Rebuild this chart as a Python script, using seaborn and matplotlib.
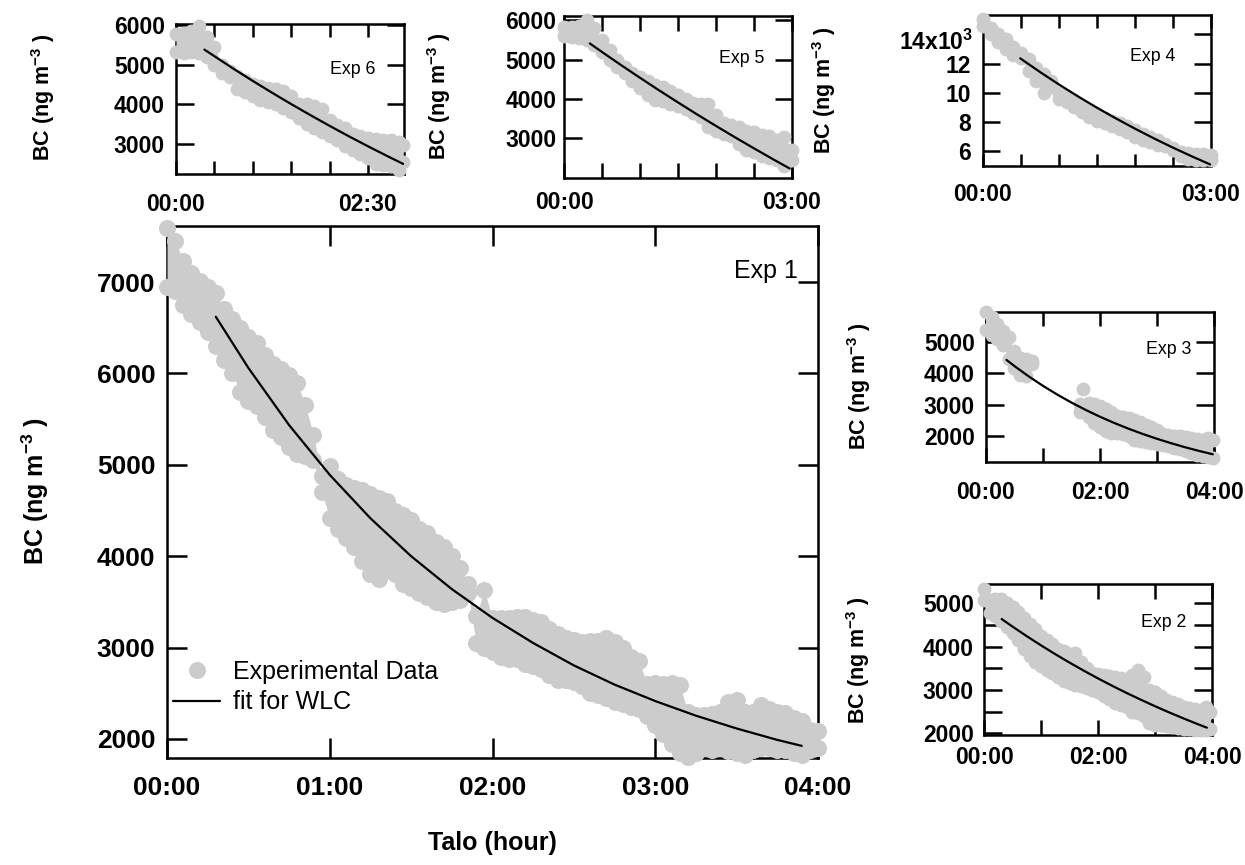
import numpy as np
import pandas as pd
import matplotlib
matplotlib.use("Agg")
import matplotlib.pyplot as plt
import seaborn as sns
from matplotlib.lines import Line2D

# ---------------- data ----------------
# Exp 1 (main panel): time in hours, upper and lower edge of the data cloud
exp1_t = [0.00, 0.05, 0.10, 0.15, 0.20, 0.25, 0.30, 0.35, 0.40, 0.45,
          0.50, 0.55, 0.60, 0.65, 0.70, 0.75, 0.80, 0.85, 0.90, 0.95,
          1.00, 1.05, 1.10, 1.15, 1.20, 1.25, 1.30, 1.35, 1.40, 1.45,
          1.50, 1.55, 1.60, 1.65, 1.70, 1.75, 1.80, 1.85, 1.90, 1.95,
          2.00, 2.05, 2.10, 2.15, 2.20, 2.25, 2.30, 2.35, 2.40, 2.45,
          2.50, 2.55, 2.60, 2.65, 2.70, 2.75, 2.80, 2.85, 2.90, 2.95,
          3.00, 3.05, 3.10, 3.15, 3.20, 3.25, 3.30, 3.35, 3.40, 3.45,
          3.50, 3.55, 3.60, 3.65, 3.70, 3.75, 3.80, 3.85, 3.90, 3.95, 4.00]
exp1_hi = [7590, 7450, 7230, 7100, 7010, 6950, 6880, 6700, 6600, 6500,
           6400, 6330, 6200, 6100, 6050, 5980, 5900, 5650, 5330, 4880,
           4990, 4850, 4780, 4750, 4720, 4680, 4640, 4600, 4500, 4450,
           4400, 4300, 4250, 4150, 4100, 4000, 3870, 3700, 3350, 3630,
           3320, 3320, 3320, 3330, 3330, 3300, 3280, 3200, 3150, 3100,
           3080, 3060, 3070, 3070, 3100, 3060, 3000, 2900, 2850, 2600,
           2610, 2600, 2610, 2590, 2300, 2260, 2260, 2270, 2300, 2400,
           2430, 2300, 2300, 2370, 2330, 2300, 2280, 2230, 2200, 2100, 2090]
exp1_lo = [6950, 6900, 6750, 6650, 6560, 6450, 6300, 6150, 6000, 5800,
           5700, 5640, 5520, 5380, 5300, 5200, 5120, 5100, 5050, 4700,
           4420, 4300, 4200, 4100, 3950, 3800, 3750, 3850, 3800, 3700,
           3650, 3600, 3550, 3500, 3480, 3500, 3520, 3600, 3050, 3000,
           2950, 2900, 2880, 2880, 2820, 2800, 2770, 2700, 2650, 2650,
           2620, 2580, 2500, 2480, 2450, 2400, 2380, 2350, 2330, 2250,
           2150, 2050, 1950, 1850, 1800, 1850, 1900, 1880, 1900, 1870,
           1850, 1820, 1880, 1900, 1900, 1880, 1880, 1850, 1820, 1880, 1900]
exp1_fit_t = [0.30, 0.50, 0.75, 1.00, 1.25, 1.50, 1.75, 2.00, 2.25, 2.50,
              2.75, 3.00, 3.25, 3.50, 3.75, 3.90]
exp1_fit = [6620, 6060, 5435, 4890, 4415, 4000, 3640, 3325, 3050, 2805,
            2595, 2415, 2255, 2115, 1990, 1925]

# Exp 6
exp6_t = [0.0, 0.1, 0.2, 0.3, 0.4, 0.5, 0.6, 0.7, 0.8, 0.9, 1.0, 1.1, 1.2, 1.3,
          1.4, 1.5, 1.6, 1.7, 1.8, 1.9, 2.0, 2.1, 2.2, 2.3, 2.4, 2.5, 2.6, 2.7,
          2.8, 2.9, 2.96]
exp6_hi = [5780, 5800, 5850, 5980, 5700, 5450, 5000, 4850, 4720, 4620, 4520,
           4460, 4420, 4380, 4330, 4200, 4020, 4000, 3950, 3880, 3600, 3480,
           3400, 3250, 3200, 3150, 3120, 3100, 3100, 3050, 2980]
exp6_lo = [5320, 5300, 5330, 5300, 5200, 5000, 4800, 4700, 4400, 4300, 4200,
           4120, 4050, 4000, 3920, 3800, 3650, 3500, 3400, 3300, 3200, 3100,
           2950, 2850, 2750, 2650, 2500, 2480, 2450, 2350, 2550]
exp6_fit_t = [0.37, 0.75, 1.0, 1.25, 1.5, 1.75, 2.0, 2.25, 2.5, 2.75, 2.96]
exp6_fit = [5380, 4896, 4591, 4295, 4008, 3730, 3460, 3198, 2945, 2700, 2500]

# Exp 5
exp5_t = [0.0, 0.1, 0.2, 0.3, 0.4, 0.5, 0.6, 0.7, 0.8, 0.9, 1.0, 1.1, 1.2, 1.3,
          1.4, 1.5, 1.6, 1.7, 1.8, 1.9, 2.0, 2.1, 2.2, 2.3, 2.4, 2.5, 2.6, 2.7,
          2.8, 2.9, 3.0]
exp5_hi = [5830, 5830, 5850, 6000, 5800, 5500, 5240, 5000, 4800, 4650, 4560,
           4450, 4350, 4300, 4200, 4100, 4000, 3900, 3870, 3870, 3600, 3380,
           3350, 3300, 3200, 3150, 3080, 3050, 2960, 3030, 2700]
exp5_lo = [5600, 5580, 5550, 5500, 5380, 5200, 4990, 4800, 4660, 4450, 4280,
           4100, 3980, 3950, 3880, 3820, 3750, 3650, 3550, 3300, 3200, 3100,
           3050, 2850, 2700, 2650, 2550, 2500, 2450, 2300, 2450]
exp5_fit_t = [0.34, 0.5, 0.75, 1.0, 1.25, 1.5, 1.75, 2.0, 2.25, 2.5, 2.75, 2.97]
exp5_fit = [5410, 5193, 4861, 4538, 4221, 3913, 3610, 3316, 3028, 2747, 2472, 2236]

# Exp 4
exp4_t = [0.0, 0.1, 0.2, 0.3, 0.4, 0.5, 0.6, 0.7, 0.8, 0.9, 1.0, 1.1, 1.2, 1.3,
          1.4, 1.5, 1.6, 1.7, 1.8, 1.9, 2.0, 2.1, 2.2, 2.3, 2.4, 2.5, 2.6, 2.7,
          2.8, 2.9, 3.0]
exp4_hi = [15070, 14450, 14000, 13700, 13150, 12750, 12300, 11700, 11250, 10800,
           10000, 9750, 9500, 9050, 8800, 8550, 8300, 8100, 7900, 7700, 7450,
           7200, 7000, 6800, 6480, 6250, 5950, 5850, 5800, 5780, 5730]
exp4_lo = [14570, 14050, 13500, 13000, 12600, 12400, 11500, 10800, 9980, 10400,
           9600, 9350, 9000, 8650, 8350, 8100, 7900, 7700, 7500, 7300, 7000,
           6780, 6600, 6450, 6340, 6100, 5650, 5500, 5400, 5390, 5390]
exp4_fit_t = [0.49, 0.75, 1.0, 1.25, 1.5, 1.75, 2.0, 2.25, 2.5, 2.75, 2.99]
exp4_fit = [12356, 11420, 10565, 9750, 8977, 8241, 7543, 6877, 6245, 5645, 5094]

# Exp 3 (no data between ~00:50 and ~01:40)
nan = np.nan
exp3_t = [0.0, 0.1, 0.2, 0.3, 0.4, 0.5, 0.6, 0.7, 0.8, 1.2,
          1.65, 1.8, 1.9, 2.0, 2.1, 2.2, 2.3, 2.4, 2.5, 2.6, 2.7, 2.8, 2.9,
          3.0, 3.1, 3.2, 3.3, 3.4, 3.5, 3.6, 3.7, 3.8, 3.9, 3.98]
exp3_hi = [5940, 5800, 5550, 5350, 5150, 4700, 4480, 4460, 4400, nan,
           3030, 3050, 3030, 2950, 2850, 2750, 2650, 2620, 2560, 2500, 2450,
           2350, 2290, 2200, 2080, 2030, 2000, 1990, 1970, 1950, 1900, 1870,
           1950, 1870]
exp3_lo = [5370, 5200, 5100, 4900, 4450, 4150, 3950, 3900, 4300, nan,
           2750, 2600, 2410, 2300, 2150, 2100, 2100, 2050, 2000, 1880, 1850,
           1820, 1780, 1750, 1720, 1680, 1620, 1580, 1520, 1450, 1400, 1360,
           1320, 1300]
exp3_out_t = [1.70]
exp3_out = [3490]
exp3_fit_t = [0.36, 0.5, 0.75, 1.0, 1.25, 1.5, 1.75, 2.0, 2.25, 2.5, 2.75, 3.0,
              3.25, 3.5, 3.75, 3.98]
exp3_fit = [4420, 4224, 3896, 3595, 3318, 3063, 2829, 2613, 2415, 2233, 2065,
            1911, 1770, 1639, 1520, 1418]

# Exp 2
exp2_t = [0.0, 0.1, 0.2, 0.3, 0.4, 0.5, 0.6, 0.7, 0.8, 0.9, 1.0, 1.1, 1.2, 1.3,
          1.4, 1.5, 1.6, 1.7, 1.8, 1.9, 2.0, 2.1, 2.2, 2.3, 2.4, 2.5, 2.6, 2.7,
          2.8, 2.9, 3.0, 3.1, 3.2, 3.3, 3.4, 3.5, 3.6, 3.7, 3.8, 3.9, 3.97]
exp2_hi = [5340, 5080, 5100, 5110, 5000, 4910, 4800, 4650, 4530, 4400, 4250,
           4150, 4070, 3950, 3900, 3840, 3850, 3650, 3500, 3380, 3370, 3350,
           3320, 3300, 3280, 3250, 3350, 3460, 3300, 3000, 2950, 2850, 2770,
           2720, 2680, 2600, 2580, 2550, 2530, 2600, 2500]
exp2_lo = [5080, 4780, 4700, 4580, 4450, 4310, 4150, 3950, 3780, 3650, 3550,
           3450, 3390, 3300, 3200, 3150, 3120, 3080, 3050, 3000, 2950, 2850,
           2780, 2700, 2650, 2600, 2500, 2470, 2400, 2240, 2200, 2180, 2170,
           2150, 2120, 2100, 2090, 2080, 2080, 2080, 2100]
exp2_fit_t = [0.31, 0.5, 0.75, 1.0, 1.25, 1.5, 1.75, 2.0, 2.25, 2.5, 2.75, 3.0,
              3.25, 3.5, 3.75, 3.91]
exp2_fit = [4637, 4462, 4241, 4029, 3825, 3631, 3444, 3265, 3094, 2930, 2774,
            2623, 2479, 2341, 2209, 2127]

# tick labels
main_xticks = [0, 1, 2, 3, 4]
main_xlabels = ["00:00", "01:00", "02:00", "03:00", "04:00"]
main_yticks = [2000, 3000, 4000, 5000, 6000, 7000]
exp6_xticks = [0, 0.5, 1, 1.5, 2, 2.5]
exp6_xlabels = ["00:00", "", "", "", "", "02:30"]
exp3h_xticks = [0, 0.5, 1, 1.5, 2, 2.5, 3]
exp3h_xlabels = ["00:00", "", "", "", "", "", "03:00"]
exp4h_xticks = [0, 1, 2, 3, 4]
exp4h_xlabels = ["00:00", "", "02:00", "", "04:00"]
exp6_yticks = [3000, 4000, 5000, 6000]
exp5_yticks = [3000, 4000, 5000, 6000]
exp4_yticks = [6000, 8000, 10000, 12000, 14000]
exp4_ylabels = ["6", "8", "10", "12", ""]
exp4_top_label = "14x10$^{3}$"
exp3_yticks = [2000, 3000, 4000, 5000]
exp2_yticks = [2000, 2500, 3000, 3500, 4000, 4500, 5000]
exp2_ylabels = ["2000", "", "3000", "", "4000", "", "5000"]

# ---------------- styling ----------------
sns.set_theme(style="ticks", rc={
    "axes.edgecolor": "black", "xtick.color": "black", "ytick.color": "black",
    "text.color": "black", "axes.labelcolor": "black",
    "axes.facecolor": "white", "figure.facecolor": "white"})
plt.rcParams["font.family"] = ["Liberation Sans", "DejaVu Sans"]
plt.rcParams["mathtext.default"] = "regular"

GRAY = "#cccccc"
W, H = 1245, 865
fig = plt.figure(figsize=(W / 100, H / 100), dpi=100)


def add_ax(l, r, t, b):
    return fig.add_axes([l / W, 1 - b / H, (r - l) / W, (b - t) / H])


def draw(ax, t, hi, lo, ft, fv, s):
    ax.fill_between(t, lo, hi, color=GRAY, lw=0, zorder=3, clip_on=False)
    df = pd.DataFrame({"t": list(t) + list(t), "bc": list(hi) + list(lo)})
    sns.scatterplot(data=df, x="t", y="bc", ax=ax, color=GRAY, s=s,
                    linewidth=0, zorder=3, clip_on=False, legend=False)
    sns.lineplot(x=ft, y=fv, ax=ax, color="black", lw=1.6, zorder=4, sort=False)
    ax.set_xlabel("")
    ax.set_ylabel("")


def style(ax, xlim, ylim, xt, xl, yt, yl, fs, xlen, ylen, xpad, ypad):
    ax.set_xlim(*xlim)
    ax.set_ylim(*ylim)
    ax.set_xticks(xt)
    ax.set_xticklabels(xl, fontsize=fs, fontweight="bold")
    ax.set_yticks(yt)
    ax.set_yticklabels(yl, fontsize=fs, fontweight="bold")
    for sp in ax.spines.values():
        sp.set_visible(True)
        sp.set_linewidth(1.8)
        sp.set_color("black")
    ax.tick_params(axis="x", direction="in", top=True, bottom=True,
                   length=xlen, width=1.8, pad=xpad)
    ax.tick_params(axis="y", direction="in", left=True, right=True,
                   length=ylen, width=1.8, pad=ypad)
    ax.grid(False)


def ylab(x_right, y, fs):
    fig.text(x_right / W, 1 - y / H, r"BC (ng m$^{-3}$ )", rotation=90,
             ha="right", va="center", fontsize=fs, fontweight="bold")


S_MAIN = 150
S_SMALL = 100

# main panel (Exp 1)
ax1 = add_ax(167, 818, 226, 758)
draw(ax1, exp1_t, exp1_hi, exp1_lo, exp1_fit_t, exp1_fit, S_MAIN)
style(ax1, (0, 4), (1792, 7613), main_xticks, main_xlabels, main_yticks,
      [str(v) for v in main_yticks], 19, 14.4, 14.4, 13.2, 8.4)
ax1.text(0.969, 0.902, "Exp 1", transform=ax1.transAxes, ha="right",
         va="baseline", fontsize=18)
handles = [Line2D([], [], marker="o", ls="none", color=GRAY, mec="none",
                  markersize=12.2),
           Line2D([], [], color="black", lw=1.6)]
ax1.legend(handles, ["Experimental Data", "fit for WLC"], loc="upper left",
           bbox_to_anchor=(0.0092, 0.184), frameon=False, fontsize=18,
           handlelength=1.9, handletextpad=0.5, labelspacing=0.25,
           borderpad=0, borderaxespad=0)
ylab(51, 491, 18)
fig.text(492 / W, 1 - 843 / H, "Talo (hour)", ha="center", va="center",
         fontsize=18, fontweight="bold")

# Exp 6
ax6 = add_ax(176, 404, 24, 174)
draw(ax6, exp6_t, exp6_hi, exp6_lo, exp6_fit_t, exp6_fit, S_SMALL)
style(ax6, (0, 2.97), (2246, 6025), exp6_xticks, exp6_xlabels, exp6_yticks,
      [str(v) for v in exp6_yticks], 16.5, 9.7, 12.6, 13.5, 8)
ax6.text(0.873, 0.667, "Exp 6", transform=ax6.transAxes, ha="right",
         va="baseline", fontsize=12.8)
ylab(57, 97, 15.5)

# Exp 5
ax5 = add_ax(564, 792, 16, 178)
draw(ax5, exp5_t, exp5_hi, exp5_lo, exp5_fit_t, exp5_fit, S_SMALL)
style(ax5, (0, 3), (1995, 6106), exp3h_xticks, exp3h_xlabels, exp5_yticks,
      [str(v) for v in exp5_yticks], 16.5, 10.5, 12.6, 9.6, 5.5)
ax5.text(0.877, 0.708, "Exp 5", transform=ax5.transAxes, ha="right",
         va="baseline", fontsize=12.8)
ylab(453, 96, 15.5)

# Exp 4
ax4 = add_ax(983, 1211, 15, 166)
draw(ax4, exp4_t, exp4_hi, exp4_lo, exp4_fit_t, exp4_fit, S_SMALL)
style(ax4, (0, 3), (4990, 15320), exp3h_xticks, exp3h_xlabels, exp4_yticks,
      exp4_ylabels, 16.5, 9.0, 12.0, 12.2, 8.4)
ax4.annotate(exp4_top_label, xy=(0, exp4_yticks[-1]),
             xycoords=("axes fraction", "data"), xytext=(-7.2, -6),
             textcoords="offset points", ha="right", va="center",
             fontsize=16.5, fontweight="bold", annotation_clip=False)
ax4.text(0.842, 0.697, "Exp 4", transform=ax4.transAxes, ha="right",
         va="baseline", fontsize=12.8)
ylab(838, 90, 15.5)

# Exp 3
ax3 = add_ax(986, 1214, 311.7, 462.3)
draw(ax3, exp3_t, exp3_hi, exp3_lo, exp3_fit_t, exp3_fit, S_SMALL)
sns.scatterplot(x=exp3_out_t, y=exp3_out, ax=ax3, color=GRAY, s=S_SMALL,
                linewidth=0, zorder=3, clip_on=False, legend=False)
style(ax3, (0, 4), (1164, 5954), exp4h_xticks, exp4h_xlabels, exp3_yticks,
      [str(v) for v in exp3_yticks], 16.5, 10.0, 13.0, 13.2, 8)
ax3.text(0.902, 0.717, "Exp 3", transform=ax3.transAxes, ha="right",
         va="baseline", fontsize=12.8)
ylab(873, 386, 15.5)

# Exp 2
ax2 = add_ax(984, 1212, 584, 735)
draw(ax2, exp2_t, exp2_hi, exp2_lo, exp2_fit_t, exp2_fit, S_SMALL)
style(ax2, (0, 4), (1958, 5446), exp4h_xticks, exp4h_xlabels, exp2_yticks,
      exp2_ylabels, 16.5, 10.8, 12.7, 8, 7.2)
ax2.text(0.886, 0.713, "Exp 2", transform=ax2.transAxes, ha="right",
         va="baseline", fontsize=12.8)
ylab(872, 660, 15.5)

fig.savefig("out.png", dpi=100)
